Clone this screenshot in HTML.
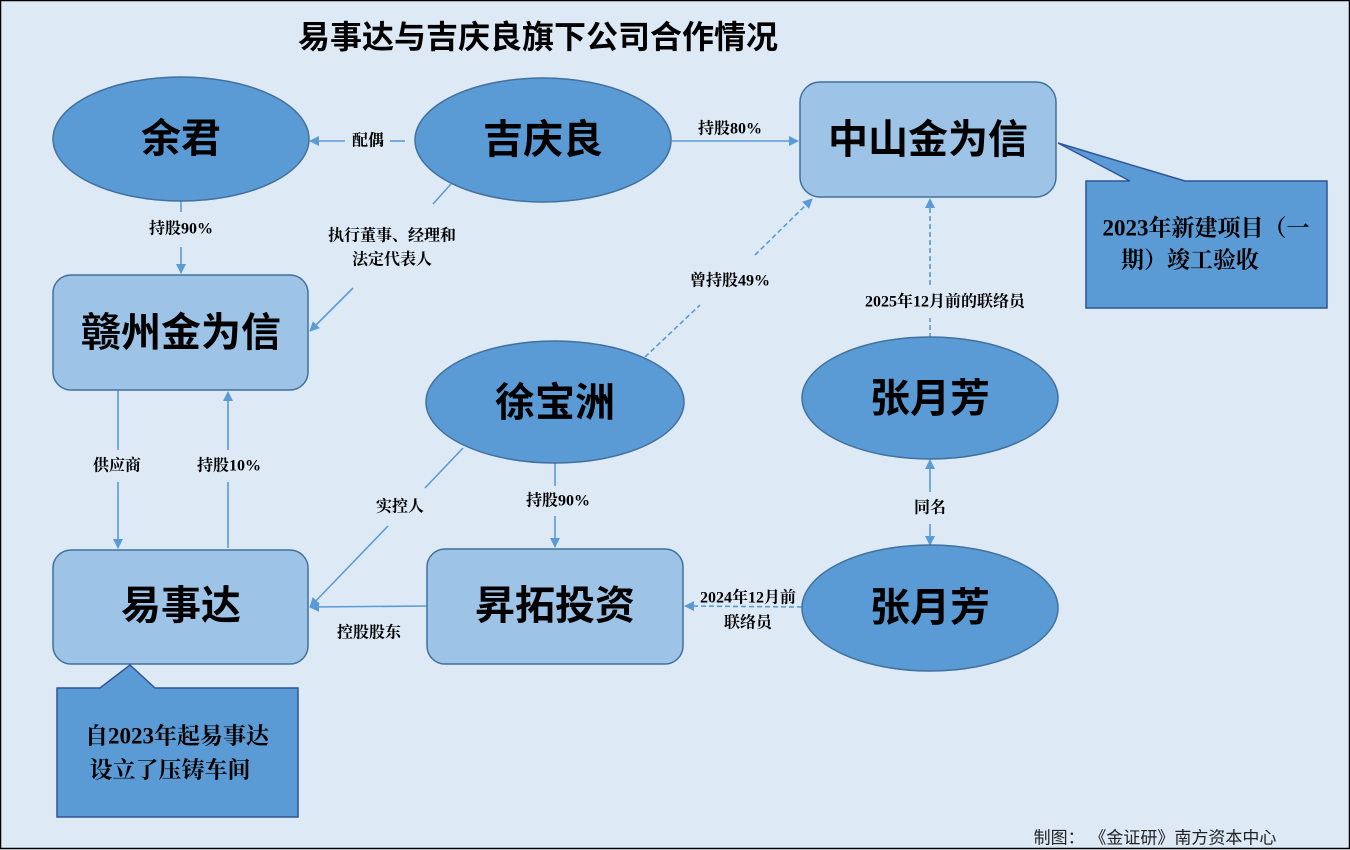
<!DOCTYPE html>
<html><head><meta charset="utf-8"><style>
html,body{margin:0;padding:0;background:#DDEAF6;}
svg{display:block}
.n{font-family:"Liberation Sans","Noto Sans CJK SC",sans-serif;font-weight:bold;font-size:40px;fill:#000;text-anchor:middle;dominant-baseline:central}
.l{font-family:"Liberation Serif","Noto Serif CJK SC",serif;font-weight:bold;font-size:16px;fill:#000;text-anchor:middle;dominant-baseline:central}
.c{font-family:"Liberation Serif","Noto Serif CJK SC",serif;font-weight:bold;font-size:23px;fill:#000;text-anchor:middle;dominant-baseline:central}
.ln{stroke:#5B9BD5;stroke-width:1.6;fill:none}
.d{stroke-dasharray:5,3}
</style></head><body>
<svg width="1350" height="850" viewBox="0 0 1350 850" xmlns="http://www.w3.org/2000/svg">
<defs><marker id="a" markerWidth="10" markerHeight="10" refX="9" refY="5" orient="auto" markerUnits="userSpaceOnUse"><path d="M0,0 L10,5 L0,10 z" fill="#5B9BD5"/></marker></defs>
<rect x="0.5" y="0.5" width="1349" height="848" fill="#DDEAF6" stroke="#000" stroke-width="1.5"/>
<text x="538" y="37" font-family="'Liberation Sans','Noto Sans CJK SC',sans-serif" font-weight="bold" font-size="32" text-anchor="middle" dominant-baseline="central">易事达与吉庆良旗下公司合作情况</text>

<!-- lines -->
<line class="ln" x1="405" y1="141" x2="390" y2="141"/><line class="ln" x1="345" y1="141" x2="310" y2="141" marker-end="url(#a)"/>
<text class="l" x="368" y="141">配偶</text>
<line class="ln" x1="672" y1="141" x2="798" y2="141" marker-end="url(#a)"/>
<text class="l" x="730" y="129">持股80%</text>
<line class="ln" x1="181" y1="201" x2="181" y2="212"/><line class="ln" x1="181" y1="247" x2="181" y2="273" marker-end="url(#a)"/>
<text class="l" x="181" y="229">持股90%</text>
<line class="ln" x1="451" y1="184" x2="433" y2="204"/><line class="ln" x1="353" y1="288" x2="310" y2="331" marker-end="url(#a)"/>
<text class="l" x="392" y="236">执行董事、经理和</text><text class="l" x="392" y="260">法定代表人</text>
<line class="ln" x1="118" y1="390" x2="118" y2="450"/><line class="ln" x1="118" y1="482" x2="118" y2="548" marker-end="url(#a)"/>
<text class="l" x="117" y="466">供应商</text>
<line class="ln" x1="228" y1="548" x2="228" y2="482"/><line class="ln" x1="228" y1="450" x2="228" y2="392" marker-end="url(#a)"/>
<text class="l" x="229" y="466">持股10%</text>
<line class="ln d" x1="645" y1="357" x2="700" y2="305"/><line class="ln d" x1="755" y1="255" x2="812" y2="199" marker-end="url(#a)"/>
<text class="l" x="730" y="281">曾持股49%</text>
<line class="ln d" x1="930" y1="338" x2="930" y2="318"/><line class="ln d" x1="930" y1="285" x2="930" y2="199" marker-end="url(#a)"/>
<text class="l" x="945" y="302">2025年12月前的联络员</text>
<line class="ln" x1="930" y1="492" x2="930" y2="460" marker-end="url(#a)"/><line class="ln" x1="930" y1="524" x2="930" y2="545" marker-end="url(#a)"/>
<text class="l" x="930" y="508">同名</text>
<line class="ln d" x1="802" y1="607" x2="685" y2="606" marker-end="url(#a)" stroke-width="2"/>
<text class="l" x="748" y="598" style="paint-order:stroke" stroke="#DDEAF6" stroke-width="3">2024年12月前</text>
<text class="l" x="748" y="623">联络员</text>
<line class="ln" x1="555" y1="463" x2="555" y2="486"/><line class="ln" x1="555" y1="516" x2="555" y2="547" marker-end="url(#a)"/>
<text class="l" x="558" y="501">持股90%</text>
<line class="ln" x1="463" y1="448" x2="425" y2="488"/><line class="ln" x1="388" y1="526" x2="310" y2="607" marker-end="url(#a)"/>
<text class="l" x="400" y="507">实控人</text>
<line class="ln" x1="427" y1="606" x2="310" y2="607" marker-end="url(#a)"/>
<text class="l" x="369" y="633">控股股东</text>

<!-- nodes -->
<g fill="#5B9BD5" stroke="#41719C" stroke-width="1.5">
<ellipse cx="181" cy="139" rx="128" ry="62"/>
<ellipse cx="543" cy="140" rx="128" ry="62"/>
<ellipse cx="555" cy="402" rx="129" ry="61"/>
<ellipse cx="930" cy="398" rx="128" ry="61"/>
<ellipse cx="930" cy="608" rx="128" ry="63"/>
</g>
<g fill="#9DC3E6" stroke="#41719C" stroke-width="1.5">
<rect x="800" y="82" width="256" height="115" rx="20"/>
<rect x="53" y="275" width="255" height="115" rx="18"/>
<rect x="53" y="550" width="255" height="114" rx="18"/>
<rect x="427" y="549" width="256" height="115" rx="18"/>
</g>
<text class="n" x="181" y="139">余君</text>
<text class="n" x="543" y="140">吉庆良</text>
<text class="n" x="928" y="140">中山金为信</text>
<text class="n" x="181" y="333">赣州金为信</text>
<text class="n" x="555" y="403">徐宝洲</text>
<text class="n" x="930" y="399">张月芳</text>
<text class="n" x="181" y="606">易事达</text>
<text class="n" x="555" y="606">昇拓投资</text>
<text class="n" x="930" y="608">张月芳</text>

<!-- callouts -->
<path d="M1086,181 L1130,181 L1058,143 L1185,181 L1327,181 L1327,308 L1086,308 Z" fill="#5B9BD5" stroke="#2F5597" stroke-width="1.5"/>
<text class="c" x="1206" y="228">2023年新建项目（一</text>
<text class="c" x="1190" y="260">期）竣工验收</text>
<path d="M57,688 L100,688 L130,665 L155,688 L298,688 L298,817 L57,817 Z" fill="#5B9BD5" stroke="#2F5597" stroke-width="1.5"/>
<text class="c" x="177" y="736">自2023年起易事达</text>
<text class="c" x="170" y="770">设立了压铸车间</text>

<text x="1155" y="838" font-family="'Liberation Sans','Noto Sans CJK SC',sans-serif" font-size="17" text-anchor="middle" dominant-baseline="central" fill="#222">制图： 《金证研》南方资本中心</text>
</svg>
</body></html>
